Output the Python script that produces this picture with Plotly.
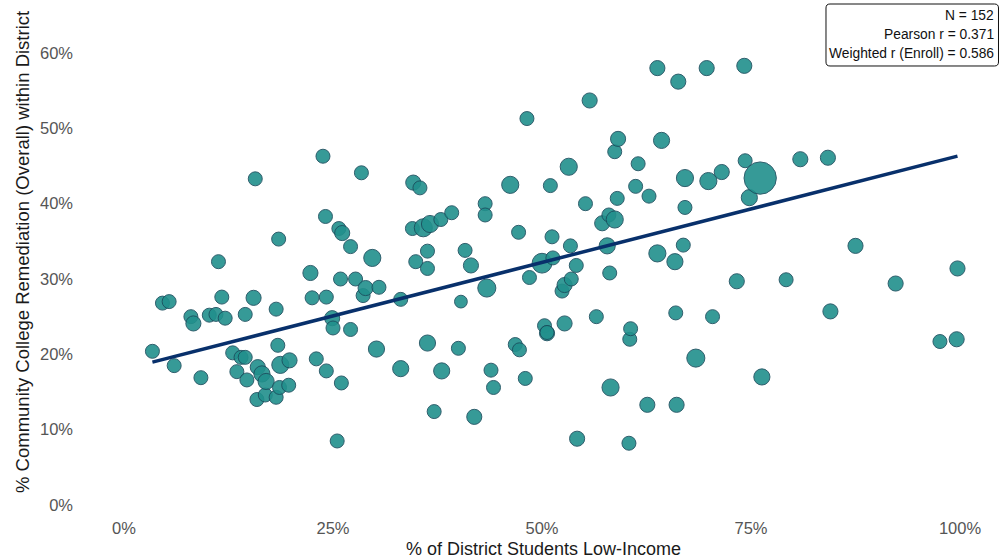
import numpy as np
import plotly.graph_objects as go

# % of district students low-income
low_income = [3.4, 4.6, 5.4, 6.0, 8.0, 8.3, 9.2, 10.2, 11.0, 11.3, 11.7, 12.1, 13.0, 13.5, 14.0, 14.5, 14.5, 14.7,
              15.5, 15.7, 15.9, 16.0, 16.5, 16.9, 17.0, 18.2, 18.2, 18.4, 18.5, 18.6, 18.7, 19.7, 19.8, 22.3, 22.5,
              23.0, 23.8, 24.1, 24.2, 24.2, 24.9, 25.0, 25.5, 25.7, 25.9, 26.0, 26.1, 27.1, 27.1, 27.7, 28.4, 28.6,
              28.9, 29.7, 30.2, 30.5, 33.1, 33.1, 34.5, 34.6, 34.9, 35.4, 35.8, 36.3, 36.3, 36.3, 36.6, 37.1, 37.9,
              38.0, 39.2, 40.0, 40.3, 40.8, 41.5, 41.9, 43.2, 43.2, 43.4, 43.9, 44.2, 46.2, 46.8, 47.2, 47.3, 48.0,
              48.2, 48.5, 50.0, 50.3, 50.6, 50.6, 51.0, 51.2, 51.3, 52.4, 52.7, 52.7, 53.2, 53.4, 53.5, 54.1, 54.2,
              55.2, 55.7, 56.5, 57.2, 57.8, 58.0, 58.1, 58.2, 58.7, 58.7, 59.0, 59.1, 60.4, 60.5, 60.6, 61.2, 61.5,
              62.6, 62.8, 63.8, 63.8, 64.3, 65.9, 66.0, 66.1, 66.3, 66.9, 67.1, 67.1, 68.4, 69.7, 69.9, 70.4, 71.5,
              73.3, 74.2, 74.3, 74.8, 76.1, 76.3, 79.2, 80.9, 84.2, 84.5, 87.5, 92.3, 97.6, 99.6, 99.7]

# % community college remediation (overall) within district
remediation = [20.4, 26.8, 27.0, 18.5, 25.0, 24.1, 16.9, 25.2, 25.3, 32.3, 27.6, 24.8, 20.2, 17.7, 19.6, 19.6, 25.3,
               16.6, 27.5, 43.3, 14.0, 18.3, 17.4, 14.6, 16.4, 26.0, 14.3, 21.2, 35.3, 15.6, 18.6, 15.9, 19.2, 30.8,
               27.5, 19.4, 46.3, 38.3, 27.6, 17.8, 24.8, 23.5, 8.5, 36.7, 30.0, 16.2, 36.1, 34.3, 23.3, 30.0, 44.1,
               27.8, 28.8, 32.8, 20.7, 28.9, 27.3, 18.1, 36.7, 42.8, 32.3, 42.1, 36.8, 33.7, 31.4, 21.5, 37.3, 12.4,
               37.9, 17.8, 38.8, 20.8, 27.0, 33.8, 31.8, 11.7, 40.0, 38.5, 28.8, 17.9, 15.6, 42.5, 21.3, 36.2, 20.6,
               16.8, 51.3, 30.2, 32.1, 23.8, 22.8, 22.9, 42.4, 35.6, 32.8, 28.4, 29.2, 24.1, 44.9, 34.4, 30.0, 31.8,
               8.8, 40.0, 53.7, 25.0, 37.4, 34.4, 38.5, 30.8, 15.6, 46.9, 37.9, 40.7, 48.6, 8.2, 22.0, 23.4, 42.3,
               45.3, 13.3, 41.0, 58.0, 33.4, 48.4, 32.3, 25.5, 13.3, 56.2, 34.5, 43.4, 39.5, 19.5, 58.0, 43.0, 25.0,
               44.2, 29.7, 58.3, 45.7, 40.8, 43.4, 17.0, 29.9, 45.9, 46.1, 25.7, 34.4, 29.4, 21.7, 22.0, 31.4]

# district enrollment (thousands)
enrollment = [3, 3, 3, 3, 3, 3.5, 3, 3, 3, 3, 3, 3, 3, 3, 3, 3, 3, 3, 3.5, 3, 3, 3.5, 4, 3, 4, 3, 3, 3, 3, 3, 4.5,
              3, 3.5, 3.5, 3, 3, 3, 3, 3, 3, 3.5, 3, 3, 3, 3, 3, 3.5, 3, 3, 3, 3, 3, 3.5, 4.5, 4, 3, 3, 4, 3, 3.5,
              3, 3, 5, 3, 3, 4, 4.5, 3, 3, 4, 3, 3, 2.5, 3, 3.5, 3.5, 3, 3, 5, 3, 3, 4.5, 3, 3, 3, 3, 3, 3, 6, 3,
              3.5, 3, 3, 3, 3, 3, 3.5, 3.5, 4.5, 3, 3, 3, 3.5, 3, 3.5, 3, 3.5, 4, 3, 3, 4.5, 3, 4.5, 3, 3.5, 3, 3,
              3, 3, 3, 3.5, 3, 3.5, 4.5, 4, 4, 3, 3.5, 3.5, 3, 4.5, 3, 5, 3.5, 4.5, 3, 3.5, 3.5, 3.5, 3, 4, 16, 4,
              3, 3.5, 3.5, 3.5, 3.5, 3.5, 3, 3.5, 3.5]

# fitted trend line (remediation % = intercept + slope * low-income %)
fit_intercept = 18.0
fit_slope = 0.284

stats_lines = ["N = 152", "Pearson r = 0.371", "Weighted r (Enroll) = 0.586"]
x_title = "% of District Students Low-Income"
y_title = "% Community College Remediation (Overall) within District"

x_ticks = [0, 25, 50, 75, 100]
y_ticks = [0, 10, 20, 30, 40, 50, 60]

xa = np.array(low_income)
fit_x = np.array([xa.min(), xa.max()])
fit_y = fit_intercept + fit_slope * fit_x

W, H = 1006, 560
L, R, T, B = 74, 998, 4, 516
x_range = [-(124 - L) / 8.36, 100 + (R - 960) / 8.36]
y_range = [-(B - 505) / 7.53, 60 + (53 - T) / 7.53]

fig = go.Figure()
fig.add_trace(go.Scatter(
    x=low_income, y=remediation, mode="markers",
    marker=dict(size=enrollment, sizemode="area", sizeref=3 / 98, color="#21908C",
                opacity=0.9, line=dict(color="#1b4e5e", width=1)),
    showlegend=False, hoverinfo="skip"))
fig.add_trace(go.Scatter(
    x=fit_x, y=fit_y, mode="lines", line=dict(color="#08306B", width=3.5),
    showlegend=False, hoverinfo="skip"))


def px_to_paper_x(px):
    return (px - L) / (R - L)


def px_to_paper_y(py):
    return (B - py) / (B - T)


def P(px, py):
    return f"{px_to_paper_x(px):.5f},{px_to_paper_y(py):.5f}"


# rounded stats box
bx0, bx1, by0, by1, rr = 826, 998.5, 4, 66, 4
path = (f"M {P(bx0 + rr, by0)} L {P(bx1 - rr, by0)} Q {P(bx1, by0)} {P(bx1, by0 + rr)} "
        f"L {P(bx1, by1 - rr)} Q {P(bx1, by1)} {P(bx1 - rr, by1)} "
        f"L {P(bx0 + rr, by1)} Q {P(bx0, by1)} {P(bx0, by1 - rr)} "
        f"L {P(bx0, by0 + rr)} Q {P(bx0, by0)} {P(bx0 + rr, by0)} Z")
fig.add_shape(type="path", path=path, xref="paper", yref="paper",
              line=dict(color="#111111", width=1), fillcolor="white", layer="above")

for i, txt in enumerate(stats_lines):
    fig.add_annotation(text=txt, xref="paper", yref="paper",
                       x=px_to_paper_x(995.5), y=px_to_paper_y(15.5 + i * 19),
                       xanchor="right", yanchor="middle", showarrow=False,
                       font=dict(family="Liberation Sans, Arial", size=13.8, color="#111111"))

# axis titles
fig.add_annotation(text=x_title, xref="paper", yref="paper",
                   x=px_to_paper_x(543), y=px_to_paper_y(549), xanchor="center", yanchor="middle",
                   showarrow=False, font=dict(family="Liberation Sans, Arial", size=18, color="#1a1a1a"))
fig.add_annotation(text=y_title, xref="paper", yref="paper", textangle=-90,
                   x=px_to_paper_x(22), y=px_to_paper_y(252), xanchor="center", yanchor="middle",
                   showarrow=False, font=dict(family="Liberation Sans, Arial", size=18.5, color="#1a1a1a"))

fig.update_layout(
    width=W, height=H,
    margin=dict(l=L, r=W - R, t=T, b=H - B),
    paper_bgcolor="white", plot_bgcolor="white",
    font=dict(family="Liberation Sans, Arial", color="#222222"),
)
fig.update_xaxes(range=x_range, tickvals=x_ticks, ticktext=[f"{v}%" for v in x_ticks],
                 showgrid=False, zeroline=False, showline=False, ticks="", automargin=False,
                 tickfont=dict(size=16.5, color="#555555"))
fig.update_yaxes(range=y_range, tickvals=y_ticks, ticktext=[f"{v}%" for v in y_ticks],
                 showgrid=False, zeroline=False, showline=False, ticks="", automargin=False,
                 tickfont=dict(size=16.5, color="#555555"))

fig.write_html("out.html", config={"displayModeBar": False},
               post_script="document.body.style.margin='0px';document.body.style.overflow='hidden';")
